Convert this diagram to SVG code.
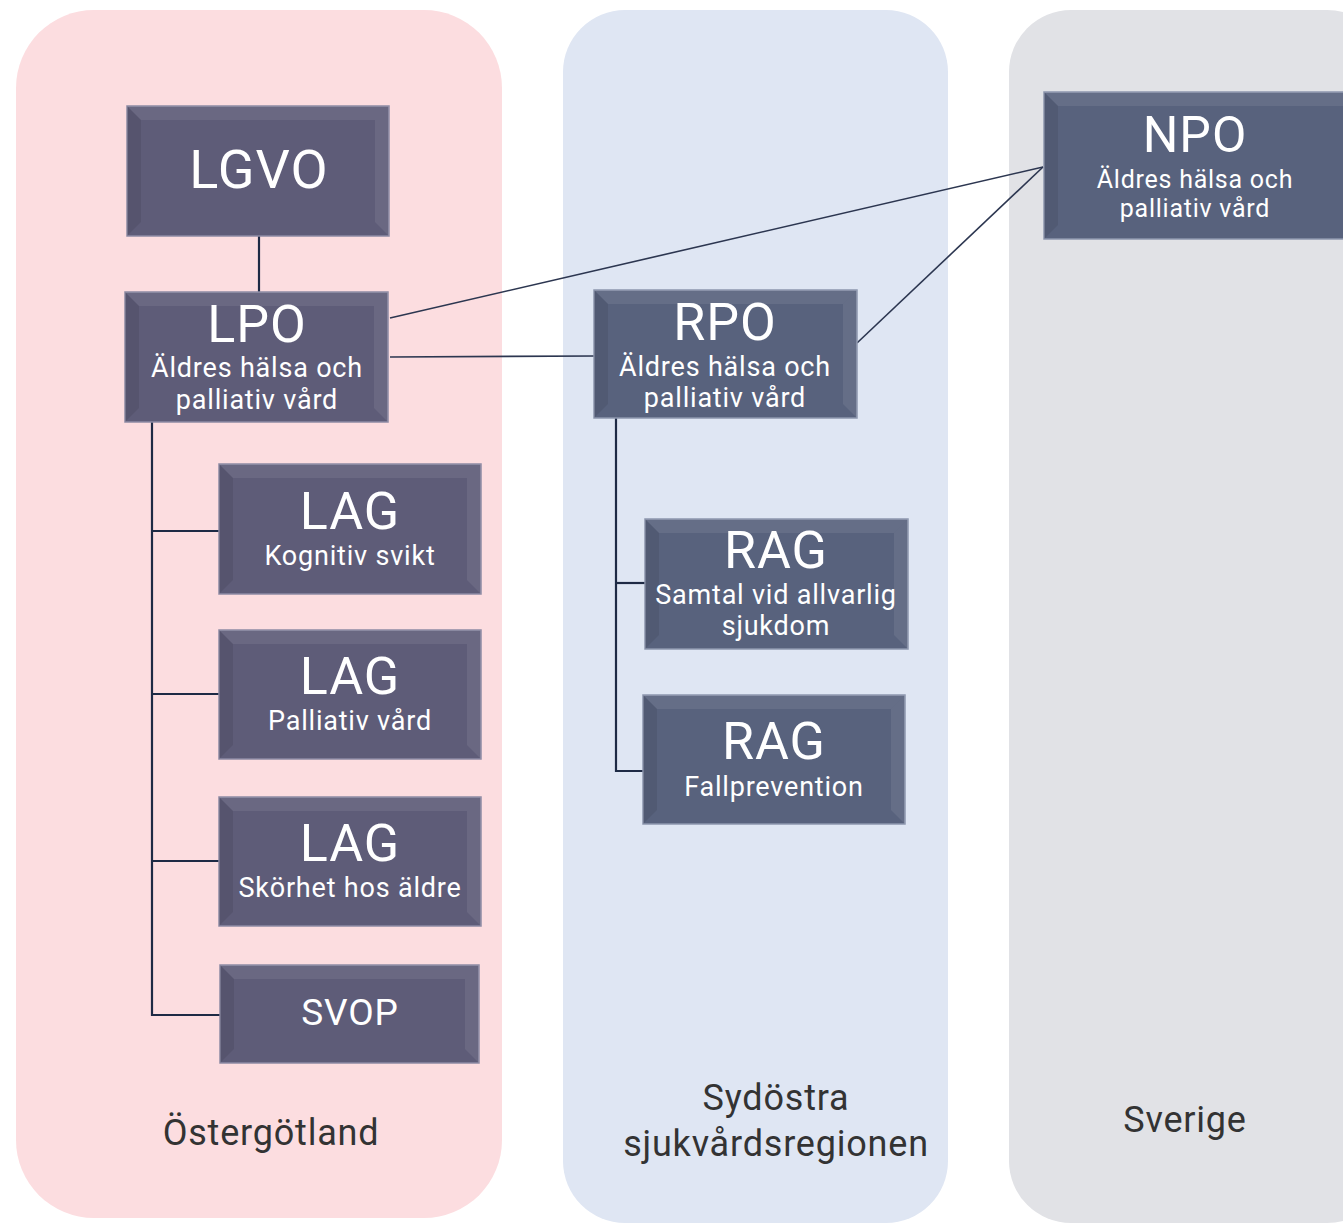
<svg xmlns="http://www.w3.org/2000/svg" width="1343" height="1223" viewBox="0 0 1343 1223">
<defs>
<style>
.t{font-family:Roboto,"Liberation Sans",sans-serif;fill:#ffffff;text-anchor:middle}
.big{font-size:52px;letter-spacing:1px}
.sub{font-size:27px;letter-spacing:0.8px}
.lbl{font-family:Roboto,"Liberation Sans",sans-serif;fill:#333333;text-anchor:middle;font-size:36px;letter-spacing:0.8px}
.c{stroke:#1e2a45;stroke-width:2.2;fill:none}
.c1{stroke:#2c3650;stroke-width:1.6;fill:none}
.np{fill:#5e5c78;stroke:#8d8aa4;stroke-width:1.5}
.nb{fill:#58627d;stroke:#8d97ae;stroke-width:1.5}
.hl{fill:#ffffff;opacity:0.08}
.dk{fill:#000000;opacity:0.08}
</style>
</defs>
<rect width="1343" height="1223" fill="#ffffff"/>
<g id="panels">
<rect x="16" y="10" width="486" height="1208" rx="78" fill="#fcdde0"/>
<rect x="563" y="10" width="385" height="1213" rx="62" fill="#dfe6f3"/>
<rect x="1009" y="10" width="380" height="1213" rx="62" fill="#e1e2e6"/>
</g>
<g id="connectors">
<line class="c" x1="259" y1="236" x2="259" y2="292"/>
<line class="c1" x1="390" y1="318" x2="1043" y2="167"/>
<line class="c1" x1="857" y1="343" x2="1043" y2="167"/>
<line class="c1" x1="390" y1="357" x2="595" y2="356"/>
<polyline class="c" points="152,422 152,1015 220,1015"/>
<line class="c" x1="152" y1="531" x2="219" y2="531"/>
<line class="c" x1="152" y1="694" x2="219" y2="694"/>
<line class="c" x1="152" y1="861" x2="219" y2="861"/>
<polyline class="c" points="616,418 616,771 643,771"/>
<line class="c" x1="616" y1="583" x2="645" y2="583"/>
</g>
<g id="n-lgvo">
<rect class="np" x="127" y="106" width="262" height="130"/>
<polygon class="hl" points="127,106 389,106 375,120 141,120"/>
<polygon class="hl" points="389,106 389,236 375,222 375,120"/>
<polygon class="dk" points="127,106 141,120 141,222 127,236"/>
<text class="t" x="259" y="188" font-size="54" letter-spacing="1">LGVO</text>
</g>
<g id="n-lpo">
<rect class="np" x="125" y="292" width="263" height="130"/>
<polygon class="hl" points="125,292 388,292 374,306 139,306"/>
<polygon class="hl" points="388,292 388,422 374,408 374,306"/>
<polygon class="dk" points="125,292 139,306 139,408 125,422"/>
<text class="t big" x="257" y="342">LPO</text>
<text class="t sub" x="257" y="377">Äldres hälsa och</text>
<text class="t sub" x="257" y="409">palliativ vård</text>
</g>
<g id="n-rpo">
<rect class="nb" x="594" y="290" width="263" height="128"/>
<polygon class="hl" points="594,290 857,290 843,304 608,304"/>
<polygon class="hl" points="857,290 857,418 843,404 843,304"/>
<polygon class="dk" points="594,290 608,304 608,404 594,418"/>
<text class="t big" x="725" y="340">RPO</text>
<text class="t sub" x="725" y="376">Äldres hälsa och</text>
<text class="t sub" x="725" y="407">palliativ vård</text>
</g>
<g id="n-npo">
<rect class="nb" x="1044" y="92" width="320" height="147"/>
<polygon class="hl" points="1044,92 1364,92 1350,106 1058,106"/>
<polygon class="dk" points="1044,92 1058,106 1058,225 1044,239"/>
<text class="t" x="1195" y="152" font-size="50" letter-spacing="1">NPO</text>
<text class="t" x="1195" y="188" font-size="25" letter-spacing="0.75">Äldres hälsa och</text>
<text class="t" x="1195" y="217" font-size="25" letter-spacing="0.75">palliativ vård</text>
</g>
<g id="n-lag1">
<rect class="np" x="219" y="464" width="262" height="130"/>
<polygon class="hl" points="219,464 481,464 467,478 233,478"/>
<polygon class="hl" points="481,464 481,594 467,580 467,478"/>
<polygon class="dk" points="219,464 233,478 233,580 219,594"/>
<text class="t big" x="350" y="529">LAG</text>
<text class="t sub" x="350" y="565">Kognitiv svikt</text>
</g>
<g id="n-lag2">
<rect class="np" x="219" y="630" width="262" height="129"/>
<polygon class="hl" points="219,630 481,630 467,644 233,644"/>
<polygon class="hl" points="481,630 481,759 467,745 467,644"/>
<polygon class="dk" points="219,630 233,644 233,745 219,759"/>
<text class="t big" x="350" y="694">LAG</text>
<text class="t sub" x="350" y="730">Palliativ vård</text>
</g>
<g id="n-lag3">
<rect class="np" x="219" y="797" width="262" height="129"/>
<polygon class="hl" points="219,797 481,797 467,811 233,811"/>
<polygon class="hl" points="481,797 481,926 467,912 467,811"/>
<polygon class="dk" points="219,797 233,811 233,912 219,926"/>
<text class="t big" x="350" y="861">LAG</text>
<text class="t sub" x="350" y="897">Skörhet hos äldre</text>
</g>
<g id="n-svop">
<rect class="np" x="220" y="965" width="259" height="98"/>
<polygon class="hl" points="220,965 479,965 465,979 234,979"/>
<polygon class="hl" points="479,965 479,1063 465,1049 465,979"/>
<polygon class="dk" points="220,965 234,979 234,1049 220,1063"/>
<text class="t" x="350" y="1025" font-size="37" letter-spacing="0.8">SVOP</text>
</g>
<g id="n-rag1">
<rect class="nb" x="645" y="519" width="263" height="130"/>
<polygon class="hl" points="645,519 908,519 894,533 659,533"/>
<polygon class="hl" points="908,519 908,649 894,635 894,533"/>
<polygon class="dk" points="645,519 659,533 659,635 645,649"/>
<text class="t big" x="776" y="568">RAG</text>
<text class="t sub" x="776" y="604">Samtal vid allvarlig</text>
<text class="t sub" x="776" y="635">sjukdom</text>
</g>
<g id="n-rag2">
<rect class="nb" x="643" y="695" width="262" height="129"/>
<polygon class="hl" points="643,695 905,695 891,709 657,709"/>
<polygon class="hl" points="905,695 905,824 891,810 891,709"/>
<polygon class="dk" points="643,695 657,709 657,810 643,824"/>
<text class="t big" x="774" y="759">RAG</text>
<text class="t sub" x="774" y="796">Fallprevention</text>
</g>
<g id="labels">
<text class="lbl" x="271" y="1145">Östergötland</text>
<text class="lbl" x="776" y="1110">Sydöstra</text>
<text class="lbl" x="776" y="1156">sjukvårdsregionen</text>
<text class="lbl" x="1185" y="1132">Sverige</text>
</g>
</svg>
